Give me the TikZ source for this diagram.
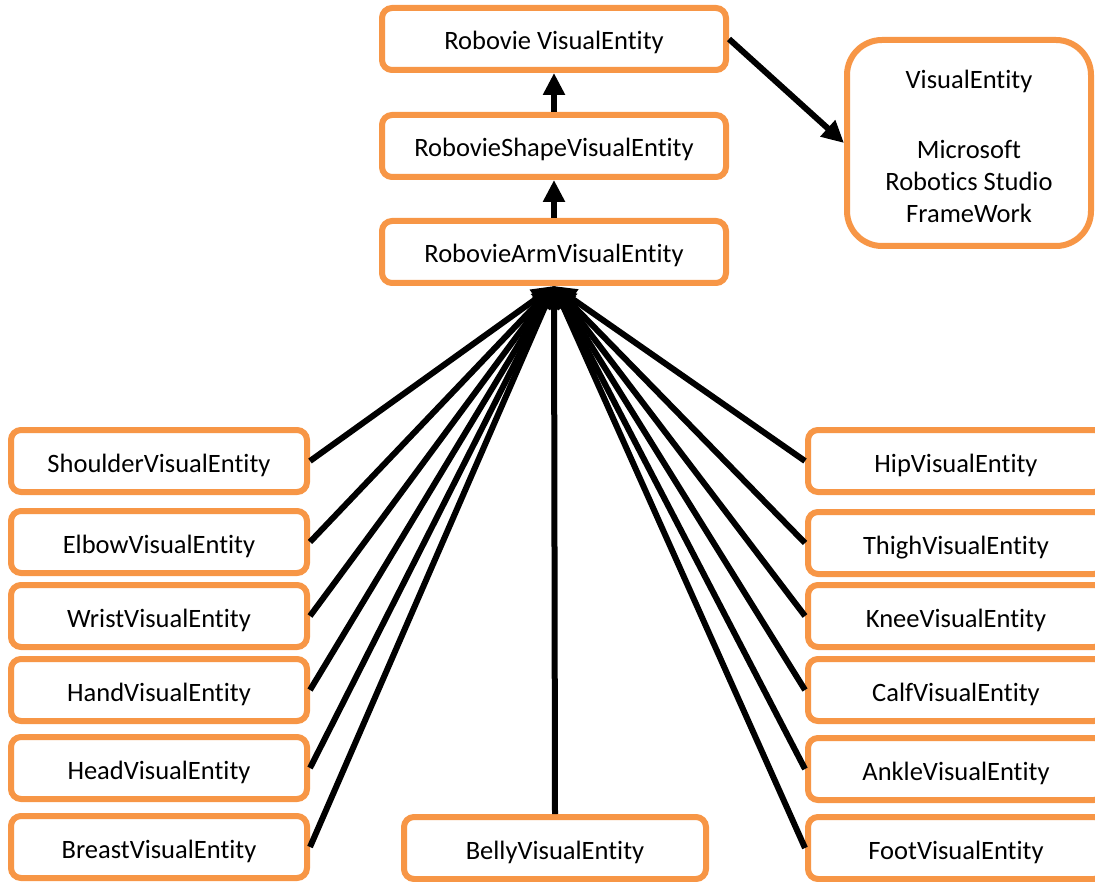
\documentclass[tikz,border=0pt]{standalone}
\usepackage{fontspec}
\setmainfont{Carlito}[Ligatures={NoCommon}]
\usetikzlibrary{arrows.meta}
\definecolor{boxorange}{HTML}{F79646}
\tikzset{
  entity/.style={draw=boxorange, line width=6pt, rounded corners=10pt, fill=white,
    minimum width=296pt, minimum height=62pt, inner sep=0pt,
    text height=24pt, text depth=2pt,
    font=\fontsize{26.5}{32}\selectfont},
  chainbox/.style={entity, minimum width=344pt},
  framebox/.style={draw=boxorange, line width=6pt, fill=white, inner sep=0pt,
    minimum width=244pt, minimum height=206pt, rounded corners=35pt,
    font=\fontsize{26.5}{32}\selectfont},
  inherit/.style={line width=6pt, -{Triangle[length=22pt,width=21pt]}}
}
\begin{document}
\begin{tikzpicture}[x=1pt,y=-1pt]
  \useasboundingbox (0,0) rectangle (1095,882);
  \clip (0,0) rectangle (1095,882);

  % main inheritance chain
  \node[chainbox] (robovie) at (554,39) {Robovie VisualEntity};
  \node[chainbox] (shape) at (554,146) {RobovieShapeVisualEntity};
  \node[chainbox] (arm) at (554,252) {RobovieArmVisualEntity};
  \node[framebox] (ve) at (969,143)
    {\raisebox{-6pt}[\height][\depth]{\begin{tabular}{@{}c@{}}VisualEntity\\[38pt]Microsoft\\Robotics Studio\\FrameWork\end{tabular}}};

  % body parts, left column
  \node[entity] (shoulder) at (159,461) {ShoulderVisualEntity};
  \node[entity] (elbow) at (159,542) {ElbowVisualEntity};
  \node[entity] (wrist) at (159,616) {WristVisualEntity};
  \node[entity] (hand) at (159,690) {HandVisualEntity};
  \node[entity] (head) at (159,768) {HeadVisualEntity};
  \node[entity] (breast) at (159,847) {BreastVisualEntity};

  % body parts, right column
  \node[entity] (hip) at (956,461) {HipVisualEntity};
  \node[entity] (thigh) at (956,543) {ThighVisualEntity};
  \node[entity] (knee) at (956,616) {KneeVisualEntity};
  \node[entity] (calf) at (956,690) {CalfVisualEntity};
  \node[entity] (ankle) at (956,769) {AnkleVisualEntity};
  \node[entity] (foot) at (956,848) {FootVisualEntity};

  % centre
  \node[entity, minimum width=302pt] (belly) at (555,848) {BellyVisualEntity};

  % connectors
  \draw[inherit] (shape) -- (robovie);
  \draw[inherit] (arm) -- (shape);
  \draw[inherit] (robovie.east) -- (ve.west);
  \foreach \n in {shoulder,elbow,wrist,hand,head,breast}
    \draw[inherit] (\n.east) -- (arm.south);
  \foreach \n in {hip,thigh,knee,calf,ankle,foot}
    \draw[inherit] (\n.west) -- (arm.south);
  \draw[inherit] (belly.north) -- (arm.south);
\end{tikzpicture}
\end{document}
